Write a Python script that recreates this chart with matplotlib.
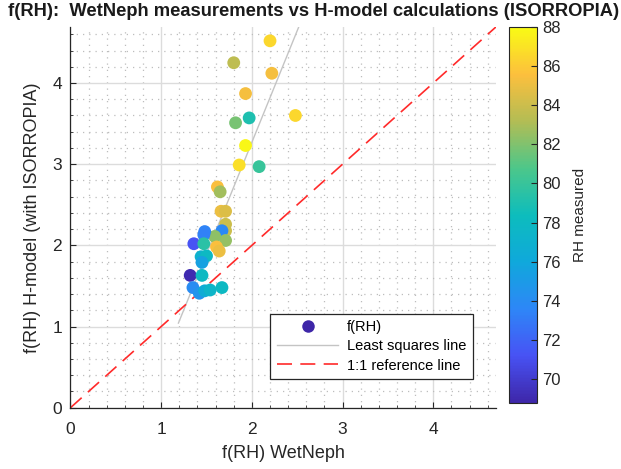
import numpy as np
import matplotlib
matplotlib.use('Agg')
import matplotlib.pyplot as plt
from matplotlib.colors import LinearSegmentedColormap
from matplotlib.ticker import MultipleLocator
from matplotlib.lines import Line2D

plt.rcParams['font.family'] = ['Liberation Sans', 'DejaVu Sans']

# f(RH) WetNeph (x), f(RH) H-model (y), RH measured (colour)
frh_wetneph = [2.20, 1.80, 2.22, 1.93, 1.97, 1.82, 2.48, 1.93, 1.86, 2.08,
               1.62, 1.65, 1.66, 1.71, 1.71, 1.71, 1.67, 1.71, 1.59, 1.48,
               1.47, 1.36, 1.47, 1.61, 1.64, 1.44, 1.50, 1.45, 1.32, 1.45,
               1.35, 1.42, 1.48, 1.54, 1.67]
frh_hmodel = [4.52, 4.25, 4.12, 3.87, 3.57, 3.51, 3.60, 3.23, 2.99, 2.97,
              2.72, 2.66, 2.42, 2.42, 2.26, 2.18, 2.18, 2.06, 2.11, 2.17,
              2.13, 2.02, 2.02, 1.98, 1.93, 1.86, 1.87, 1.79, 1.63, 1.63,
              1.48, 1.41, 1.44, 1.45, 1.48]
rh_measured = [86.5, 83.5, 85.3, 85.3, 79.0, 81.8, 86.5, 87.8, 86.8, 80.0,
               85.5, 82.8, 85.0, 84.5, 84.0, 84.0, 73.8, 82.5, 82.3, 73.5,
               73.3, 71.2, 79.5, 85.5, 85.0, 77.0, 78.0, 75.5, 69.0, 78.0,
               74.0, 74.5, 76.5, 77.5, 78.0]

# least squares line
lsq_slope = 2.75
lsq_intercept = -2.23
lsq_xrange = [1.19, 2.6]

rh_min, rh_max = 68.77, 88.0
lim = 4.69
cbar_ticks = [70, 72, 74, 76, 78, 80, 82, 84, 86, 88]

# parula-like colormap
parula = LinearSegmentedColormap.from_list('parula', [
    (0.000, (0.2422, 0.1504, 0.6603)),
    (0.125, (0.2810, 0.3228, 0.9579)),
    (0.250, (0.1786, 0.5289, 0.9682)),
    (0.375, (0.0600, 0.6600, 0.8600)),
    (0.500, (0.0500, 0.7400, 0.7400)),
    (0.625, (0.3000, 0.7800, 0.5400)),
    (0.750, (0.7000, 0.7400, 0.3300)),
    (0.875, (0.9900, 0.7500, 0.2400)),
    (1.000, (0.9769, 0.9839, 0.0805)),
])

fig = plt.figure(figsize=(6.21, 4.69), dpi=100)
ax = fig.add_axes([0.1135, 0.1307, 0.685, 0.8117])
cax = fig.add_axes([0.8196, 0.1407, 0.0451, 0.8017])

grey = '#262626'

sc = ax.scatter(frh_wetneph, frh_hmodel, c=rh_measured, cmap=parula,
                vmin=rh_min, vmax=rh_max, s=85, linewidths=0, zorder=3)

xs = np.array(lsq_xrange)
ax.plot(xs, lsq_slope * xs + lsq_intercept, color='#c4c4c4', lw=1.0, zorder=2)
ax.plot([0, lim], [0, lim], color='#ff2a2a', lw=1.2, dashes=(9, 5), zorder=2)

ax.set_xlim(0, lim)
ax.set_ylim(0, lim)
ax.xaxis.set_major_locator(MultipleLocator(1))
ax.yaxis.set_major_locator(MultipleLocator(1))
ax.xaxis.set_minor_locator(MultipleLocator(0.2))
ax.yaxis.set_minor_locator(MultipleLocator(0.2))
ax.grid(which='major', color='#dcdcdc', lw=1.0)
ax.grid(which='minor', color='#bdbdbd', lw=0.9, linestyle=(0, (1, 4)))
ax.set_axisbelow(True)
for s in ['top', 'right']:
    ax.spines[s].set_visible(False)
for s in ['left', 'bottom']:
    ax.spines[s].set_color(grey)
    ax.spines[s].set_linewidth(0.9)
ax.tick_params(which='both', direction='in', colors=grey, labelsize=12.5)
ax.tick_params(which='major', length=4)
ax.tick_params(which='minor', length=2)
ax.tick_params(axis='x', pad=10)
ax.tick_params(axis='y', pad=6)

ax.set_xlabel('f(RH) WetNeph', fontsize=13, color=grey, labelpad=6)
ax.set_ylabel('f(RH) H-model (with ISORROPIA)', fontsize=13, color=grey, labelpad=8)

fig.text(314 / 621, 1 - 12 / 469, 'f(RH):  WetNeph measurements vs H-model calculations (ISORROPIA)',
         ha='center', va='center', fontsize=13.2, fontweight='bold', color='#1a1a1a')

cb = fig.colorbar(sc, cax=cax, ticks=cbar_ticks)
cb.outline.set_edgecolor(grey)
cb.outline.set_linewidth(0.8)
cax.tick_params(direction='in', colors=grey, labelsize=12, length=4)
cb.set_label('RH measured', fontsize=11, color=grey, labelpad=9)

handles = [
    Line2D([], [], marker='o', linestyle='none', markersize=9,
           markerfacecolor=parula(0.0), markeredgecolor='none'),
    Line2D([], [], color='#c4c4c4', lw=1.0),
    Line2D([], [], color='#ff2a2a', lw=1.2, dashes=(9, 5)),
]
leg = ax.legend(handles, ['f(RH)', 'Least squares line', '1:1 reference line'],
                loc='lower right', bbox_to_anchor=(0.946, 0.075), borderaxespad=0,
                fontsize=10.5, handlelength=4.2, fancybox=False, framealpha=1,
                edgecolor=grey, borderpad=0.45, labelspacing=0.35, handletextpad=0.6)
leg.get_frame().set_linewidth(0.9)

fig.savefig('out.png', dpi=100)
